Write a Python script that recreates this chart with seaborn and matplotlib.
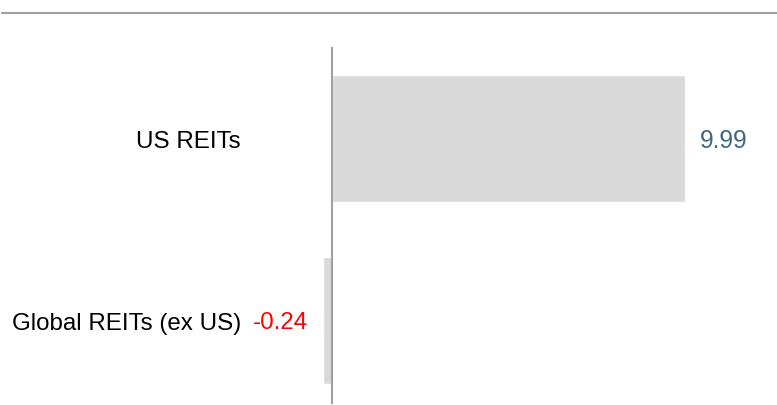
import matplotlib
matplotlib.use('Agg')
import matplotlib.pyplot as plt
import seaborn as sns
import pandas as pd

categories = ['US REITs', 'Global REITs (ex US)']
values = [9.99, -0.24]
value_labels = ['9.99', '-0.24']

sns.set_theme(style='white')
plt.rcParams['font.family'] = ['Liberation Sans', 'DejaVu Sans']

df = pd.DataFrame({'name': categories, 'value': values})

fig = plt.figure(figsize=(7.77, 4.06), dpi=100)
# axes placed in pixel terms: left 250, right 777, top 48, bottom 405
ax = fig.add_axes([250 / 777, 1 - 405 / 406, 527 / 777, 357 / 406])

sns.barplot(data=df, x='value', y='name', orient='h', color='#d9d9d9',
            width=0.7, saturation=1, ax=ax)

ax.set_xlim(-2.32, 12.6)
ax.set_ylim(1.459, -0.503)

for s in ['top', 'right', 'bottom', 'left']:
    ax.spines[s].set_visible(False)
ax.axvline(0, color='#a0a0a0', lw=1.5)

ax.set_xticks([])
ax.set_xlabel('')
ax.set_ylabel('')
ax.tick_params(axis='y', length=0, pad=6.5, labelsize=17.4, labelcolor='black')

# value labels
for i, (v, txt) in enumerate(zip(values, value_labels)):
    if v >= 0:
        ax.annotate(txt, (v, i), xytext=(10.5, -1), textcoords='offset points',
                    ha='left', va='center', fontsize=17.8, color='#3f6680')
    else:
        ax.annotate(txt, (v, i), xytext=(-10.8, -1), textcoords='offset points',
                    ha='right', va='center', fontsize=17.4, color='#ff0000')

# top rule across the figure
fig.add_artist(plt.Line2D([2 / 777, 1], [1 - 14 / 406, 1 - 14 / 406],
                          color='#a0a0a0', lw=1.5, transform=fig.transFigure))

fig.savefig('out.png', dpi=100)
